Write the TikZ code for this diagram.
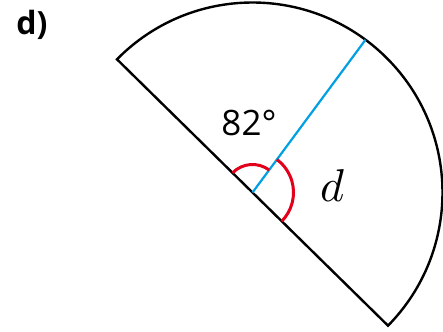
\documentclass[tikz,border=0pt]{standalone}
\usepackage{fontspec}
\setsansfont{Open Sans}
\definecolor{segblue}{RGB}{0,160,227}
\definecolor{angred}{RGB}{226,0,26}
\tikzset{
  outline/.style={line width=2.4pt,line join=miter},
  radiusline/.style={segblue,line width=2.2pt},
  anglemark/.style={angred,line width=3pt}
}
\begin{document}
\begin{tikzpicture}[x=1pt,y=1pt]
\useasboundingbox (0,0) rectangle (443,331);
\coordinate (O) at (252.5,138.5);
\coordinate (A) at ([shift={(135.5:190)}]O);
\coordinate (B) at ([shift={(-44.5:190)}]O);
\coordinate (C) at ([shift={(53.5:190)}]O);
\draw[outline] (B) arc[start angle=-44.5,end angle=135.5,radius=190] -- cycle;
\draw[radiusline] (O) -- (C);
\draw[anglemark] ([shift={(53.5:28)}]O) arc[start angle=53.5,end angle=135.5,radius=28];
\draw[anglemark] ([shift={(-44.5:41)}]O) arc[start angle=-44.5,end angle=53.5,radius=41];
\node (ang) at (249,208) {\sffamily\fontsize{35}{40}\selectfont 82°};
\node[scale=4.6] (var) at (332,145) {$d$};
\node (lbl) at (32,306) {\sffamily\bfseries\fontsize{32}{36}\selectfont d)};
\end{tikzpicture}
\end{document}
